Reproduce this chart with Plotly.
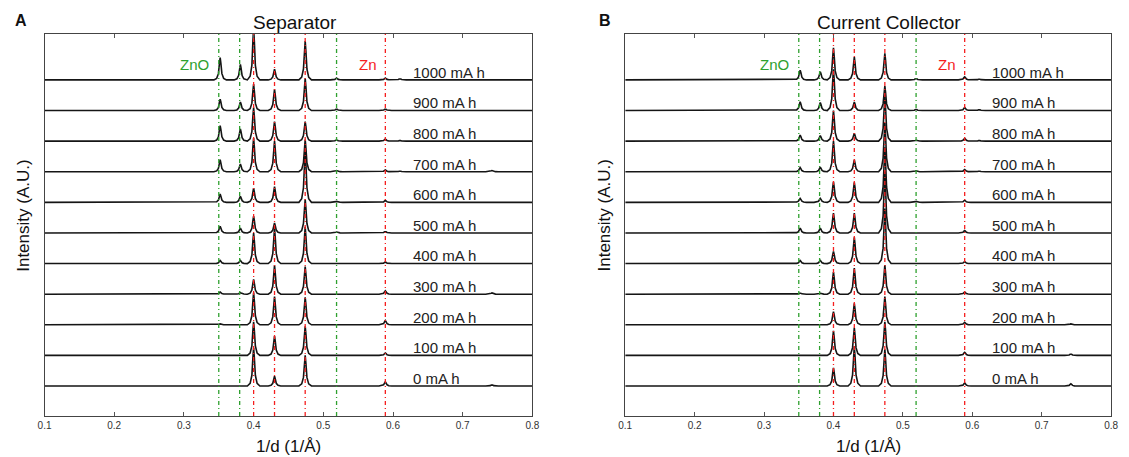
import plotly.graph_objects as go

# ---------------- data ----------------
capacities = [0, 100, 200, 300, 400, 500, 600, 700, 800, 900, 1000]
cap_labels = [f"{c} mA h" for c in capacities]

# peak positions (1/d, 1/Å)
peak_pos = [0.352, 0.381, 0.400, 0.430, 0.474, 0.519, 0.589, 0.610, 0.742]

# peak heights per capacity (units of trace spacing)
sep_0 = [0.0, 0.0, 1.25, 0.32, 1.0, 0.0, 0.14, 0.0, 0.04]
sep_100 = [0.0, 0.0, 1.1, 0.63, 0.95, 0.0, 0.08, 0.0, 0.02]
sep_200 = [0.03, 0.02, 1.05, 0.92, 0.9, 0.0, 0.14, 0.0, 0.02]
sep_300 = [0.07, 0.05, 0.48, 0.94, 0.9, 0.02, 0.11, 0.0, 0.04]
sep_400 = [0.1, 0.1, 1.0, 1.15, 1.2, 0.02, 0.05, 0.0, 0.02]
sep_500 = [0.22, 0.16, 0.55, 0.33, 1.1, 0.03, 0.05, 0.0, 0.02]
sep_600 = [0.27, 0.2, 0.46, 0.51, 1.7, 0.03, 0.06, 0.0, 0.02]
sep_700 = [0.39, 0.25, 1.1, 1.0, 1.05, 0.04, 0.06, 0.02, 0.04]
sep_800 = [0.51, 0.4, 1.1, 0.64, 0.64, 0.04, 0.07, 0.02, 0.02]
sep_900 = [0.37, 0.28, 0.86, 0.69, 1.05, 0.05, 0.05, 0.02, 0.02]
sep_1000 = [0.73, 0.51, 1.7, 0.35, 1.27, 0.06, 0.06, 0.04, 0.02]
separator = [sep_0, sep_100, sep_200, sep_300, sep_400, sep_500,
             sep_600, sep_700, sep_800, sep_900, sep_1000]

cc_0 = [0.0, 0.0, 0.59, 1.3, 1.2, 0.0, 0.1, 0.0, 0.07]
cc_100 = [0.0, 0.0, 0.8, 0.9, 1.1, 0.0, 0.1, 0.0, 0.05]
cc_200 = [0.02, 0.02, 0.43, 0.7, 0.92, 0.0, 0.08, 0.0, 0.03]
cc_300 = [0.04, 0.03, 0.72, 0.85, 0.95, 0.0, 0.07, 0.0, 0.02]
cc_400 = [0.1, 0.1, 0.4, 0.86, 1.8, 0.02, 0.06, 0.0, 0.02]
cc_500 = [0.16, 0.16, 0.65, 0.65, 2.0, 0.02, 0.08, 0.0, 0.02]
cc_600 = [0.13, 0.13, 0.67, 0.65, 1.8, 0.03, 0.07, 0.0, 0.02]
cc_700 = [0.14, 0.15, 1.0, 0.39, 1.6, 0.03, 0.07, 0.02, 0.02]
cc_800 = [0.2, 0.18, 1.0, 0.26, 1.5, 0.03, 0.09, 0.02, 0.02]
cc_900 = [0.29, 0.26, 1.35, 0.28, 0.8, 0.04, 0.1, 0.03, 0.02]
cc_1000 = [0.32, 0.27, 1.05, 0.75, 0.87, 0.05, 0.1, 0.03, 0.02]
current_collector = [cc_0, cc_100, cc_200, cc_300, cc_400, cc_500,
                     cc_600, cc_700, cc_800, cc_900, cc_1000]

# reference lines
zno_lines = [0.350, 0.380, 0.519]
zn_lines = [0.400, 0.430, 0.474, 0.589]

x_ticks = [0.1, 0.2, 0.3, 0.4, 0.5, 0.6, 0.7, 0.8]
x_range = [0.1, 0.8]

# ---------------- styling ----------------
W, H = 1129, 457
FONT = "Liberation Sans, Arial, sans-serif"
GREEN = "rgb(46,160,46)"
RED = "rgb(245,30,30)"
# peak profile (rendering shape of each diffraction peak)
PROFILE_DX = [-0.009, -0.005, -0.0025, -0.001, 0.0, 0.001, 0.0025, 0.005, 0.009]
PROFILE_FR = [0.0, 0.07, 0.28, 0.75, 1.0, 0.75, 0.28, 0.07, 0.0]

panels = [
    dict(name="Separator", data=separator, x0=38, x1=532, title_x=292, letter="A", letter_x=14),
    dict(name="Current Collector", data=current_collector, x0=626, x1=1118, title_x=893, letter="B", letter_x=606),
]
TOP, BOT = 34, 416
Y_RANGE = [-0.98, 11.5]


def px_x(px):
    return px / W


def px_y(py):
    return 1 - py / H


def build_trace(heights, offset):
    xs = [x_range[0]]
    ys = [offset]
    for pos, h in zip(peak_pos, heights):
        if h <= 0:
            continue
        for dx, fr in zip(PROFILE_DX, PROFILE_FR):
            xs.append(pos + dx)
            ys.append(offset + h * fr)
    xs.append(x_range[1])
    ys.append(offset)
    return xs, ys


fig = go.Figure()
annotations = []
shapes = []
layout = {}

for i, p in enumerate(panels):
    xa = "x" if i == 0 else f"x{i+1}"
    ya = "y" if i == 0 else f"y{i+1}"
    for k, heights in enumerate(p["data"]):
        xs, ys = build_trace(heights, k)
        fig.add_trace(go.Scatter(x=xs, y=ys, mode="lines", xaxis=xa, yaxis=ya,
                                 line=dict(color="#151515", width=1.6),
                                 showlegend=False, hoverinfo="skip"))
        annotations.append(dict(x=0.626, y=k + 0.25, xref=xa, yref=ya,
                                text=cap_labels[k], showarrow=False,
                                xanchor="left", yanchor="middle",
                                font=dict(family=FONT, size=15, color="#222")))
    for xv in zno_lines:
        shapes.append(dict(type="line", xref=xa, yref=f"{ya} domain", x0=xv, x1=xv,
                           y0=0, y1=1, line=dict(color=GREEN, width=1.3, dash="4px,3px,1px,3px"),
                           layer="above"))
    for xv in zn_lines:
        shapes.append(dict(type="line", xref=xa, yref=f"{ya} domain", x0=xv, x1=xv,
                           y0=0, y1=1, line=dict(color=RED, width=1.3, dash="4px,3px,1px,3px"),
                           layer="above"))
    annotations.append(dict(x=0.315, y=10.5, xref=xa, yref=ya, text="ZnO", showarrow=False,
                            font=dict(family=FONT, size=15, color=GREEN)))
    annotations.append(dict(x=0.564, y=10.5, xref=xa, yref=ya, text="Zn", showarrow=False,
                            font=dict(family=FONT, size=15, color=RED)))
    # panel title
    annotations.append(dict(x=px_x(p["title_x"]), y=px_y(22), xref="paper", yref="paper",
                            text=p["name"], showarrow=False, xanchor="center", yanchor="middle",
                            font=dict(family=FONT, size=19, color="#111")))
    annotations.append(dict(x=px_x(p["letter_x"]), y=px_y(21), xref="paper", yref="paper",
                            text=f"<b>{p['letter']}</b>", showarrow=False, xanchor="center",
                            yanchor="middle", font=dict(family=FONT, size=16, color="#111")))
    # axis titles
    annotations.append(dict(x=px_x((p["x0"] + p["x1"]) / 2), y=px_y(446), xref="paper", yref="paper",
                            text="1/d (1/Å)", showarrow=False, xanchor="center", yanchor="middle",
                            font=dict(family=FONT, size=17, color="#111")))
    annotations.append(dict(x=px_x(p["x0"] - 22), y=px_y(216), xref="paper", yref="paper",
                            text="Intensity (A.U.)", showarrow=False, textangle=-90,
                            xanchor="center", yanchor="middle",
                            font=dict(family=FONT, size=17, color="#111")))

    xkey = "xaxis" if i == 0 else f"xaxis{i+1}"
    ykey = "yaxis" if i == 0 else f"yaxis{i+1}"
    layout[xkey] = dict(domain=[px_x(p["x0"]), px_x(p["x1"])], range=x_range, anchor=ya,
                        tickvals=x_ticks, ticktext=[f"{t:g}" for t in x_ticks],
                        ticks="inside", ticklen=4, tickwidth=1, tickcolor="#555",
                        showline=True, linecolor="#444", linewidth=1.3, mirror="ticks",
                        showgrid=False, zeroline=False,
                        tickfont=dict(family=FONT, size=10, color="#333"))
    layout[ykey] = dict(domain=[px_y(BOT), px_y(TOP)], range=Y_RANGE, anchor=xa,
                        showticklabels=False, ticks="", showline=True, linecolor="#444",
                        linewidth=1.3, mirror=True, showgrid=False, zeroline=False)

fig.update_layout(width=W, height=H, margin=dict(l=0, r=0, t=0, b=0),
                  plot_bgcolor="white", paper_bgcolor="white",
                  annotations=annotations, shapes=shapes, showlegend=False, **layout)

fig.write_html("out.html", config={"displayModeBar": False},
               post_script="document.body.style.margin='0';document.body.style.overflow='hidden';")
